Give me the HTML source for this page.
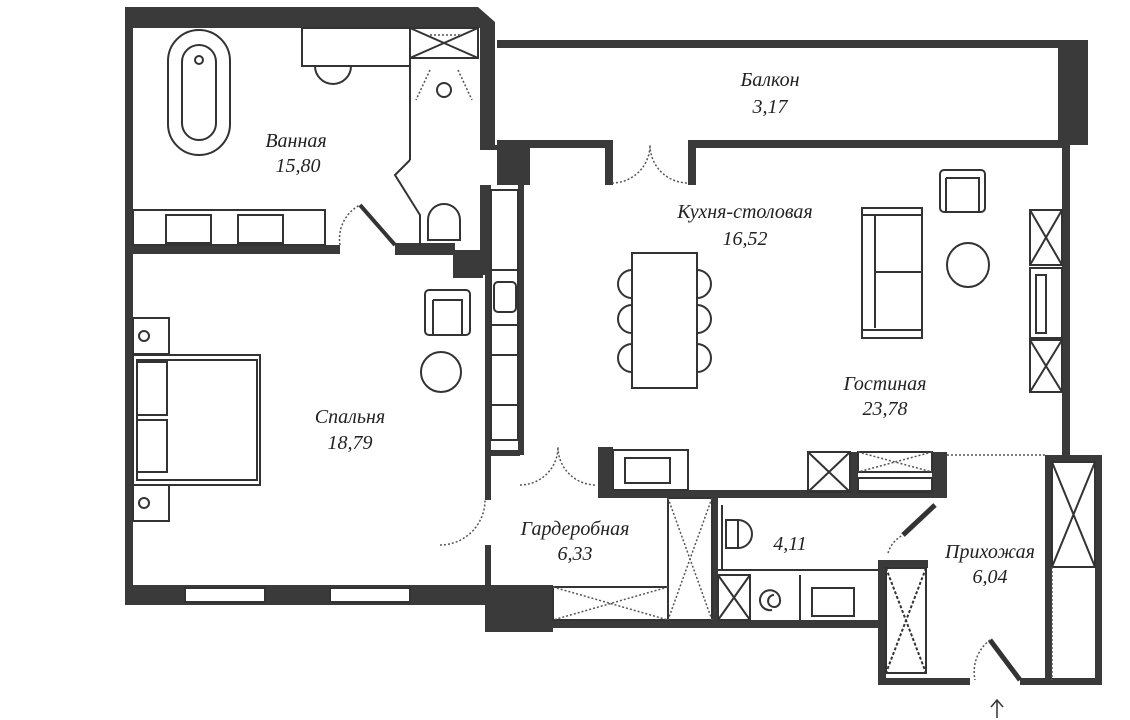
<!DOCTYPE html>
<html><head><meta charset="utf-8"><style>
html,body{margin:0;padding:0;background:#fff;width:1130px;height:720px;overflow:hidden}
text{font-family:"Liberation Serif","DejaVu Serif",serif;font-style:italic;font-size:20px;fill:#222;text-anchor:middle}
</style></head><body>
<svg width="1130" height="720" viewBox="0 0 1130 720" xmlns="http://www.w3.org/2000/svg">
<g fill="#3a3a3a">
<!-- bathroom outer -->
<path d="M125 7 H478 L495 22 V145 H530 V185 H497 V150 H480 V28 H133 V605 H125 Z"/>
<!-- balcony -->
<rect x="497" y="40" width="565" height="8"/>
<rect x="1058" y="40" width="30" height="105"/>
<rect x="497" y="140" width="115" height="8"/>
<rect x="690" y="140" width="372" height="8"/>
<rect x="605" y="140" width="8" height="45"/>
<rect x="688" y="140" width="8" height="45"/>
<rect x="1062" y="145" width="8" height="310"/>
<!-- kitchen left wall & counter -->
<rect x="518" y="145" width="6" height="310"/>
<rect x="485" y="185" width="6" height="270"/>
<rect x="485" y="450" width="35" height="6"/>
<!-- bath/bedroom divider -->
<rect x="133" y="245" width="207" height="9"/>
<rect x="395" y="243" width="60" height="12"/>
<rect x="453" y="250" width="30" height="28"/>
<rect x="480" y="185" width="8" height="90"/>
<!-- bedroom bottom -->
<rect x="125" y="585" width="375" height="20"/>
<rect x="485" y="455" width="6" height="45"/>
<rect x="485" y="545" width="6" height="45"/>
<rect x="485" y="585" width="68" height="47"/>
<rect x="500" y="620" width="385" height="8"/>
<!-- kitchen bottom -->
<rect x="598" y="447" width="15" height="50"/>
<rect x="598" y="490" width="340" height="8"/>
<rect x="932" y="452" width="15" height="46"/>
<rect x="850" y="452" width="8" height="40"/>
<rect x="712" y="497" width="6" height="128"/>
<rect x="878" y="560" width="8" height="125"/>
<rect x="878" y="560" width="50" height="8"/>
<rect x="878" y="678" width="92" height="7"/>
<rect x="1020" y="678" width="82" height="7"/>
<rect x="1095" y="455" width="7" height="230"/>
<rect x="1045" y="455" width="57" height="7"/>
<rect x="1045" y="455" width="7" height="230"/>
</g>
<g fill="none" stroke="#333" stroke-width="2">
<!-- windows bedroom -->
<rect x="185" y="588" width="80" height="14" fill="#fff"/>
<rect x="330" y="588" width="80" height="14" fill="#fff"/>
<!-- bathtub -->
<rect x="168" y="30" width="62" height="125" rx="31"/>
<rect x="182" y="45" width="34" height="95" rx="17"/>
<circle cx="199" cy="60" r="4"/>
<!-- shelf -->
<rect x="302" y="28" width="108" height="38"/>
<path d="M315 66 A18 18 0 0 0 351 66"/>
<!-- shower -->
<rect x="410" y="28" width="68" height="30"/>
<path d="M410 28 L478 58 M478 28 L410 58"/>
<path d="M410 58 V160 M410 160 L395 175 L420 215 V245"/>
<circle cx="444" cy="90" r="7"/>
<path d="M428 240 V220 A16 16 0 0 1 460 220 V240 Z"/>
<!-- vanity -->
<rect x="133" y="210" width="192" height="35"/>
<rect x="166" y="215" width="45" height="28"/>
<rect x="238" y="215" width="45" height="28"/>
<path d="M360 205 L395 245" stroke-width="4"/>
<!-- bed -->
<rect x="133" y="355" width="127" height="130"/>
<rect x="137" y="360" width="120" height="120"/>
<rect x="137" y="362" width="30" height="53"/>
<rect x="137" y="420" width="30" height="52"/>
<rect x="133" y="318" width="36" height="36"/>
<rect x="133" y="485" width="36" height="36"/>
<circle cx="144" cy="336" r="5"/>
<circle cx="144" cy="503" r="5"/>
<!-- armchair -->
<rect x="425" y="290" width="45" height="45" rx="4"/>
<path d="M433 300 H462 V335 M433 300 V335"/>
<circle cx="441" cy="372" r="20"/>
<!-- kitchen counter -->
<rect x="491" y="190" width="27" height="250"/>
<rect x="494" y="282" width="22" height="30" rx="4"/>
<path d="M491 270 H518 M491 325 H518 M491 355 H518 M491 405 H518"/>
<!-- dining -->
<rect x="632" y="253" width="65" height="135"/>
<path d="M632 270 A13 13 0 0 0 632 298 M632 305 A13 13 0 0 0 632 333 M632 344 A13 13 0 0 0 632 372"/>
<path d="M697 270 A13 13 0 0 1 697 298 M697 305 A13 13 0 0 1 697 333 M697 344 A13 13 0 0 1 697 372"/>
<!-- sofa -->
<rect x="862" y="208" width="60" height="130"/>
<path d="M875 215 V328 M875 272 H922 M862 215 H922 M862 330 H922"/>
<rect x="940" y="170" width="45" height="42" rx="4"/>
<path d="M946 178 H979 V212 M946 178 V212"/>
<ellipse cx="968" cy="265" rx="21" ry="22"/>
<!-- right wall units -->
<rect x="1030" y="210" width="32" height="55"/>
<path d="M1030 210 L1062 265 M1062 210 L1030 265"/>
<rect x="1030" y="268" width="32" height="70"/>
<rect x="1036" y="275" width="10" height="58"/>
<rect x="1030" y="340" width="32" height="52"/>
<path d="M1030 340 L1062 392 M1062 340 L1030 392"/>
<!-- kitchen sink cabinet -->
<rect x="613" y="450" width="75" height="40"/>
<rect x="625" y="458" width="45" height="25"/>
<rect x="808" y="452" width="42" height="40"/>
<path d="M808 452 L850 492 M850 452 L808 492"/>
<rect x="858" y="452" width="74" height="20"/>
<rect x="858" y="478" width="74" height="14"/>
<!-- wardrobe closets -->
<rect x="668" y="498" width="44" height="122"/>
<rect x="553" y="587" width="115" height="33"/>
<!-- wc -->
<path d="M722 505 V570 M718 570 H878"/>
<rect x="726" y="520" width="12" height="28"/>
<path d="M738 520 A14 14 0 0 1 738 548"/>
<rect x="718" y="575" width="32" height="45"/>
<path d="M718 575 L750 620 M750 575 L718 620 M800 575 V620"/>
<rect x="812" y="588" width="42" height="28"/>
<path d="M772 610 a10 10 0 1 1 8 -10 a6 6 0 1 1 -6 -5"/>
<path d="M935 505 L903 535" stroke-width="5"/>
<!-- hall closets -->
<rect x="886" y="568" width="40" height="105"/>
<path d="M886 568 L926 673 M926 568 L886 673" stroke-dasharray="3 2"/>
<rect x="1052" y="462" width="43" height="105"/>
<path d="M1052 462 L1095 567 M1095 462 L1052 567"/>
<path d="M990 640 L1020 680" stroke-width="5"/>
<path d="M997 718 V700 M991 707 L997 700 L1003 707" stroke-width="1.5"/>
</g>
<g fill="none" stroke="#555" stroke-width="1.5" stroke-dasharray="2 2">
<path d="M430 35 L460 35"/>
<path d="M430 70 L416 100 M458 70 L472 100"/>
<path d="M340 245 A38 38 0 0 1 360 205"/>
<path d="M612 183 A38 38 0 0 0 650 145 A38 38 0 0 0 688 183"/>
<path d="M520 485 A38 38 0 0 0 558 447 A38 38 0 0 0 596 485"/>
<path d="M440 545 A45 45 0 0 0 485 500"/>
<path d="M888 553 A30 30 0 0 1 903 535"/>
<path d="M990 640 A40 40 0 0 0 975 680"/>
<path d="M947 455 H1045"/>
<path d="M668 498 L712 620 M712 498 L668 620"/>
<path d="M553 587 L668 620 M668 587 L553 620"/>
<path d="M858 452 L932 472 M932 452 L858 472"/>
<path d="M1052 567 V680"/>
</g>
<text x="770" y="86">Балкон</text>
<text x="770" y="113">3,17</text>
<text x="296" y="147">Ванная</text>
<text x="298" y="172">15,80</text>
<text x="745" y="218">Кухня-столовая</text>
<text x="745" y="245">16,52</text>
<text x="885" y="390">Гостиная</text>
<text x="885" y="415">23,78</text>
<text x="350" y="423">Спальня</text>
<text x="350" y="449">18,79</text>
<text x="575" y="535">Гардеробная</text>
<text x="575" y="560">6,33</text>
<text x="790" y="550">4,11</text>
<text x="990" y="558">Прихожая</text>
<text x="990" y="583">6,04</text>
</svg>
</body></html>
